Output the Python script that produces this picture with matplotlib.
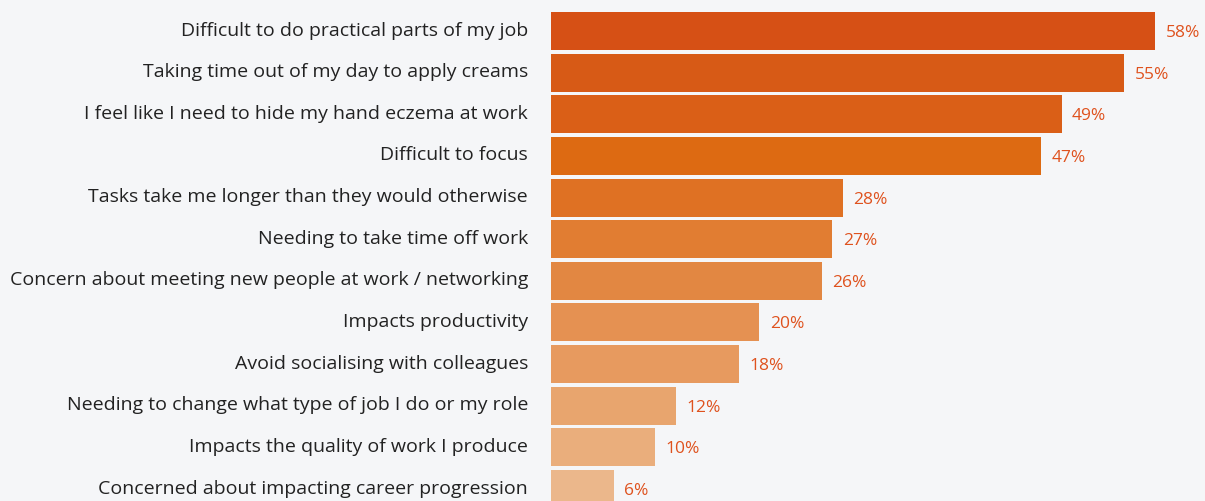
import matplotlib
matplotlib.use("Agg")
import matplotlib.pyplot as plt

categories = [
    "Difficult to do practical parts of my job",
    "Taking time out of my day to apply creams",
    "I feel like I need to hide my hand eczema at work",
    "Difficult to focus",
    "Tasks take me longer than they would otherwise",
    "Needing to take time off work",
    "Concern about meeting new people at work / networking",
    "Impacts productivity",
    "Avoid socialising with colleagues",
    "Needing to change what type of job I do or my role",
    "Impacts the quality of work I produce",
    "Concerned about impacting career progression",
]
values = [58, 55, 49, 47, 28, 27, 26, 20, 18, 12, 10, 6]
bar_colors = [
    "#D65015", "#D75A16", "#DA5F17", "#DD6A12", "#DF7123", "#E17D32",
    "#E28742", "#E59152", "#E79A5F", "#E8A56E", "#EAAE7C", "#EBB78B",
]

BG = "#F5F6F8"
W, H = 1205, 501
fig = plt.figure(figsize=(W / 100, H / 100), dpi=100, facecolor=BG)
left_px = 551
ax = fig.add_axes([left_px / W, 0, 1 - left_px / W, 1], facecolor=BG)

pitch = 41.65
ypos = list(range(len(values)))
ax.barh(ypos, values, height=38 / pitch, color=bar_colors, edgecolor="none")
ax.set_ylim(11 + (H - 489) / pitch, -31 / pitch)
ax.set_xlim(0, (W - left_px) / 10.42)

for y, v in zip(ypos, values):
    ax.annotate(f"{v}%", (v, y), xytext=(7.5, -4.3), textcoords="offset points",
                ha="left", va="baseline", fontsize=12.5, color="#DF521E",
                family="Open Sans", fontweight="medium")
for y, c in zip(ypos, categories):
    ax.annotate(c, (0, y), xytext=(-16.5, -3.3), textcoords="offset points",
                ha="right", va="baseline", fontsize=14, color="#222222",
                family="Open Sans", annotation_clip=False)

ax.axis("off")
fig.savefig("out.png", dpi=100, facecolor=BG)
